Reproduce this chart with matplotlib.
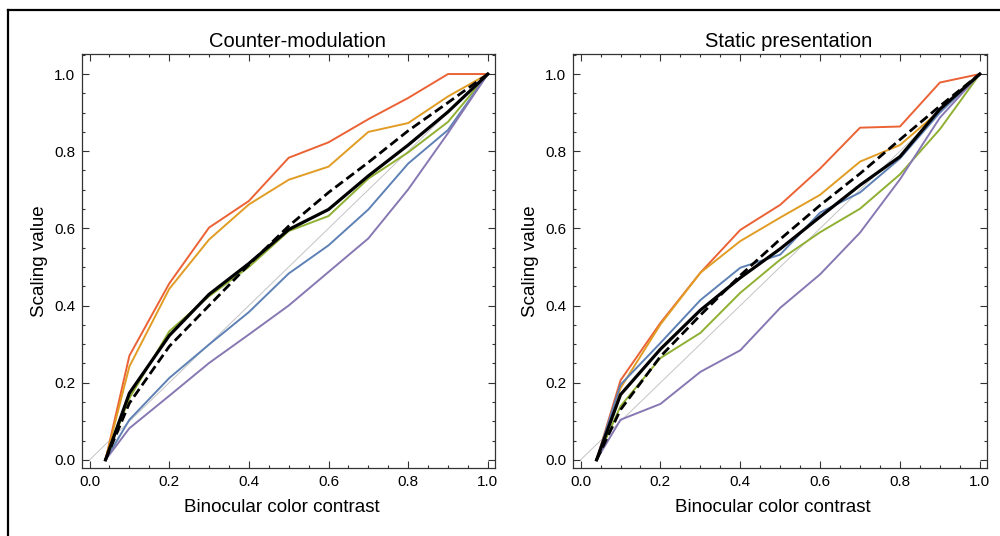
import matplotlib

matplotlib.use("Agg")
import matplotlib.pyplot as plt
from matplotlib.lines import Line2D
from matplotlib.ticker import MultipleLocator

plt.rcParams["font.family"] = ["Liberation Sans", "DejaVu Sans"]

# binocular color contrast levels (shared by both panels)
contrast = [0.04, 0.1, 0.2, 0.3, 0.4, 0.5, 0.6, 0.7, 0.8, 0.9, 1.0]

# Counter-modulation panel
cm_red = [0.0, 0.27, 0.457, 0.602, 0.671, 0.783, 0.823, 0.883, 0.938, 1.0, 1.0]
cm_orange = [0.0, 0.242, 0.443, 0.571, 0.662, 0.726, 0.760, 0.850, 0.873, 0.942, 1.0]
cm_green = [0.0, 0.16, 0.333, 0.424, 0.50, 0.593, 0.632, 0.729, 0.797, 0.876, 1.0]
cm_blue = [0.0, 0.104, 0.212, 0.299, 0.383, 0.483, 0.556, 0.649, 0.768, 0.855, 1.0]
cm_purple = [0.0, 0.082, 0.166, 0.251, 0.325, 0.40, 0.487, 0.574, 0.701, 0.847, 1.0]
cm_mean = [0.0, 0.173, 0.322, 0.429, 0.509, 0.597, 0.649, 0.736, 0.816, 0.902, 1.0]
cm_fit = [0.0, 0.147, 0.294, 0.40, 0.506, 0.606, 0.693, 0.771, 0.853, 0.926, 1.0]

# Static presentation panel
st_red = [0.0, 0.206, 0.355, 0.485, 0.596, 0.661, 0.755, 0.861, 0.864, 0.978, 1.0]
st_orange = [0.0, 0.186, 0.351, 0.485, 0.567, 0.628, 0.687, 0.773, 0.816, 0.905, 1.0]
st_green = [0.0, 0.139, 0.264, 0.329, 0.433, 0.519, 0.590, 0.651, 0.740, 0.857, 1.0]
st_blue = [0.0, 0.195, 0.303, 0.414, 0.498, 0.532, 0.641, 0.693, 0.781, 0.90, 1.0]
st_purple = [0.0, 0.104, 0.145, 0.228, 0.284, 0.394, 0.481, 0.589, 0.727, 0.887, 1.0]
st_mean = [0.0, 0.169, 0.287, 0.388, 0.472, 0.547, 0.630, 0.712, 0.786, 0.909, 1.0]
st_fit = [0.0, 0.13, 0.268, 0.375, 0.478, 0.572, 0.66, 0.742, 0.83, 0.917, 1.0]

COLORS = {
    "blue": "#5E81B5",
    "orange": "#E19C24",
    "green": "#8FB032",
    "red": "#EB6235",
    "purple": "#8778B3",
}
SPINE = "#333333"


def draw_panel(ax, title, series, mean, fit):
    ax.plot([0, 1], [0, 1], color="#c4c4c4", linewidth=0.7, zorder=1)
    for name, vals in series:
        ax.plot(contrast, vals, color=COLORS[name], linewidth=1.4, zorder=2)
    ax.plot(contrast, mean, color="black", linewidth=2.3, zorder=3)
    ax.plot(contrast, fit, color="black", linewidth=2.0, linestyle=(0, (3.4, 1.6)), zorder=4)

    ax.set_xlim(-0.019, 1.018)
    ax.set_ylim(-0.021, 1.052)
    ax.xaxis.set_major_locator(MultipleLocator(0.2))
    ax.xaxis.set_minor_locator(MultipleLocator(0.05))
    ax.yaxis.set_major_locator(MultipleLocator(0.2))
    ax.yaxis.set_minor_locator(MultipleLocator(0.05))
    ax.xaxis.set_major_formatter(lambda v, p: f"{v:.1f}")
    ax.yaxis.set_major_formatter(lambda v, p: f"{v:.1f}")
    ax.tick_params(which="both", direction="in", top=True, right=True, color=SPINE, width=0.8)
    ax.tick_params(which="major", length=5, labelsize=11, pad=5)
    ax.tick_params(which="minor", length=2.5)
    for sp in ax.spines.values():
        sp.set_color(SPINE)
        sp.set_linewidth(0.9)

    ax.set_title(title, fontsize=14.5, pad=5, x=0.522)
    ax.set_xlabel("Binocular color contrast", fontsize=13.5, labelpad=7)
    ax.xaxis.set_label_coords(0.483, -0.075)
    ax.set_ylabel("Scaling value", fontsize=13.5, labelpad=4)


fig = plt.figure(figsize=(10, 5.36), dpi=100)
ax1 = fig.add_axes([0.082, 0.1269, 0.413, 0.7724])
ax2 = fig.add_axes([0.573, 0.1269, 0.414, 0.7724])

draw_panel(
    ax1,
    "Counter-modulation",
    [("red", cm_red), ("orange", cm_orange), ("green", cm_green), ("blue", cm_blue), ("purple", cm_purple)],
    cm_mean,
    cm_fit,
)
draw_panel(
    ax2,
    "Static presentation",
    [("red", st_red), ("orange", st_orange), ("green", st_green), ("blue", st_blue), ("purple", st_purple)],
    st_mean,
    st_fit,
)

# outer frame (only top and left edges are visible in the crop)
fig.add_artist(Line2D([0.008, 1.0], [1 - 10 / 536, 1 - 10 / 536], color="black", linewidth=1.6))
fig.add_artist(Line2D([0.008, 0.008], [0.0, 1 - 10 / 536], color="black", linewidth=1.6))

fig.savefig("out.png", dpi=100)
